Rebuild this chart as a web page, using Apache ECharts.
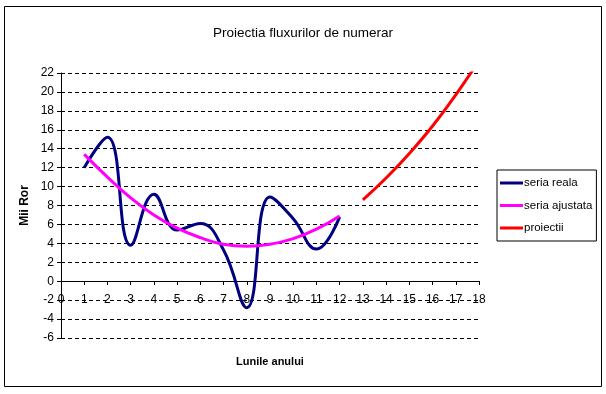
<!DOCTYPE html>
<html>
<head>
<meta charset="utf-8">
<script src="https://cdn.jsdelivr.net/npm/echarts@6/dist/echarts.min.js"></script>
<style>
  html, body { margin: 0; padding: 0; background: #fff; }
  #chart { width: 606px; height: 394px; }
</style>
</head>
<body>
<div id="chart"></div>
<script>
// valori (mii ron)
var luni = [1, 2, 3, 4, 5, 6, 7, 8, 9, 10, 11, 12];
var seriaReala = [12.0, 15.2, 3.8, 9.2, 5.4, 6.1, 3.3, -2.8, 8.9, 6.6, 3.4, 6.8];
var seriaAjustata = [13.4, 11.0, 8.8, 7.0, 5.6, 4.6, 3.9, 3.7, 3.9, 4.5, 5.5, 6.9];
var luniProiectie = [13, 14, 15, 16, 17, 18];
var proiectii = [8.6, 10.9, 13.5, 16.4, 19.7, 23.3];

function pairs(xs, ys) {
    var out = [];
    for (var i = 0; i < xs.length; i++) {
        out.push([xs[i], ys[i]]);
    }
    return out;
}

var font = 'Liberation Sans, Arial, sans-serif';
var myChart = echarts.init(document.getElementById('chart'));

var option = {
    backgroundColor: '#fff',
    animation: false,
    title: {
        text: 'Proiectia fluxurilor de numerar',
        left: 'center',
        top: 21,
        textStyle: { fontFamily: font, fontSize: 13.5, fontWeight: 'normal', color: '#000' }
    },
    graphic: [{
        type: 'rect',
        shape: { x: 4.5, y: 6.5, width: 597, height: 380 },
        style: { fill: 'none', stroke: '#000', lineWidth: 1 },
        silent: true
    }],
    legend: {
        orient: 'vertical',
        left: 497,
        top: 170,
        padding: [7, 4, 7, 3],
        itemGap: 10.5,
        itemWidth: 23,
        itemHeight: 3,
        icon: 'rect',
        borderColor: '#000',
        borderWidth: 1,
        textStyle: { fontFamily: font, fontSize: 11.5, color: '#000', padding: [0, 0, 0, -4] },
        data: ['seria reala', 'seria ajustata', 'proiectii']
    },
    grid: { left: 61, right: 127, top: 73, bottom: 56, outerBoundsMode: 'none', containLabel: false },
    xAxis: {
        type: 'value',
        min: 0,
        max: 18,
        interval: 1,
        // axa X trece prin 0 (57px deasupra marginii de jos a zonei)
        offset: -57,
        name: 'Lunile anului',
        nameLocation: 'middle',
        nameGap: 75,
        nameMoveOverlap: false,
        nameTextStyle: { fontFamily: font, fontSize: 11, fontWeight: 'bold', color: '#000' },
        axisLine: { onZero: false, lineStyle: { color: '#000', width: 1 } },
        axisTick: { show: true, length: 4, lineStyle: { color: '#000' } },
        axisLabel: { fontFamily: font, fontSize: 12, color: '#000', margin: 13 },
        splitLine: { show: false }
    },
    yAxis: {
        type: 'value',
        min: -6,
        max: 22,
        interval: 2,
        name: 'Mii Ror',
        nameLocation: 'middle',
        nameGap: 30,
        nameMoveOverlap: false,
        nameTextStyle: { fontFamily: font, fontSize: 12, fontWeight: 'bold', color: '#000' },
        axisLine: { show: true, lineStyle: { color: '#000', width: 1 } },
        axisTick: { show: true, length: 4, lineStyle: { color: '#000' } },
        axisLabel: { fontFamily: font, fontSize: 12, color: '#000', margin: 7 },
        splitLine: { show: true, lineStyle: { color: '#000', type: [4, 3], width: 1 } }
    },
    series: [
        {
            name: 'seria reala',
            type: 'line',
            smooth: 0.45,
            showSymbol: false,
            color: '#000080',
            lineStyle: { width: 3, color: '#000080' },
            data: pairs(luni, seriaReala)
        },
        {
            name: 'seria ajustata',
            type: 'line',
            smooth: 0.45,
            showSymbol: false,
            color: '#ff00ff',
            lineStyle: { width: 3, color: '#ff00ff' },
            data: pairs(luni, seriaAjustata)
        },
        {
            name: 'proiectii',
            type: 'line',
            smooth: 0.45,
            showSymbol: false,
            clip: true,
            color: '#ff0000',
            lineStyle: { width: 3, color: '#ff0000' },
            data: pairs(luniProiectie, proiectii)
        }
    ]
};

myChart.setOption(option);
</script>
</body>
</html>
